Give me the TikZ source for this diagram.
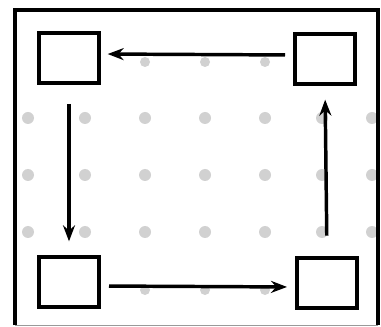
\documentclass[tikz,border=0pt]{standalone}
\usepackage{tikz}
\usetikzlibrary{arrows.meta, positioning}

\begin{document}
\begin{tikzpicture}[x=0.75pt, y=-0.75pt,
      cell/.style={rectangle, draw=black, line width=3pt, minimum width=45pt, minimum height=38pt, anchor=center},
      flow/.style={-{Stealth[length=12pt, width=9pt]}, line width=2.6pt},
      speck/.style={fill=black!18, draw=none}
    ]
      \useasboundingbox (0,0) rectangle (381,327);
      % halftone specks of the scan
      \foreach \x in {28,85,145,205,265,322,372} {
        \foreach \y in {118,175,232} {
          \fill[speck] (\x,\y) circle (6);
        }
      }
      \foreach \x in {145,205,265} {
        \fill[speck] (\x,62) circle (5);
        \fill[speck] (\x,290) circle (5);
      }
      \draw[line width=2.8pt] (15,325) -- (15,10) -- (378,10) -- (378,325);
      \draw[line width=0.6pt, black!40] (15,325) -- (378,325);

      \node[cell] (TL) at (69,58) {};
      \node[cell] (TR) at (325,59) {};
      \node[cell] (BL) at (69,282) {};
      \node[cell] (BR) at (327,283) {};

      \draw[flow, shorten <=6, shorten >=5] ([yshift=3]TR.west) -- ([yshift=3]TL.east);
      \draw[flow, shorten <=14, shorten >=10] (TL.south) -- (BL.north);
      \draw[flow, shorten <=6, shorten >=6] ([yshift=-3]BL.east) -- ([yshift=-3]BR.west);
      \draw[flow, shorten <=15, shorten >=10] (BR.north) -- (TR.south);
    \end{tikzpicture}
\end{document}
